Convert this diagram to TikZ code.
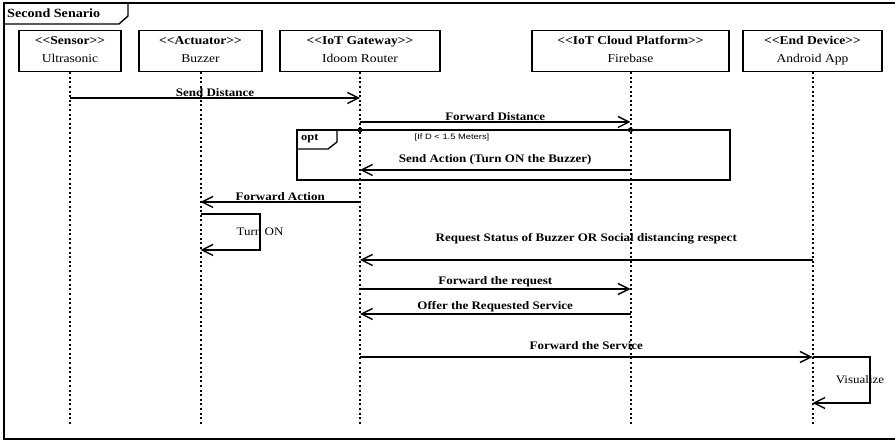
\documentclass[tikz,border=0pt]{standalone}
\usepackage{fontspec}
\setmainfont{Liberation Serif}[FakeStretch=1.13]
\newfontfamily\guardfont{Liberation Sans}[FakeStretch=1.2]
\usetikzlibrary{arrows.meta,positioning}

\newcommand{\stereo}[1]{\textbf{<\kern0pt<#1>\kern0pt>}\strut}

\begin{document}
\begin{tikzpicture}[
    x=1pt, y=-1pt,
    font=\fontsize{12}{14}\selectfont,
    head/.style={
        draw,
        line width=1.4pt,
        align=center,
        minimum height=41pt,
        inner sep=2pt
    },
    lifeline/.style={
        line width=2pt,
        dash pattern=on 2pt off 2.6pt
    },
    msg/.style={
        -{Straight Barb[length=11pt,width=11pt]},
        line width=1.4pt
    },
    lbl/.style={
        font=\fontsize{11.5}{13}\selectfont\bfseries,
        above=0pt,
        inner sep=1pt
    },
    selflbl/.style={
        font=\fontsize{11.5}{13}\selectfont
    },
    frame/.style={
        draw,
        line width=1.4pt
    }
]
\useasboundingbox (0,0) rectangle (895,443);

% outer frame and its tag
\draw[frame] (898,439) -- (4,439) -- (4,3) -- (898,3);
\draw[frame] (4,24) -- (119,24) -- (128,16) -- (128,3);
\node[anchor=west, font=\fontsize{12.5}{14}\selectfont\bfseries, inner sep=0pt] (title) at (7,13) {Second Senario};

% lifeline heads
\node[head, minimum width=102pt] (sensor) at (70,51) {\stereo{Sensor}\\[4pt]Ultrasonic\strut};
\node[head, minimum width=123pt] (buzzer) at (200.5,51) {\stereo{Actuator}\\[4pt]Buzzer\strut};
\node[head, minimum width=160pt] (gateway) at (360,51) {\stereo{IoT Gateway}\\[4pt]Idoom Router\strut};
\node[head, minimum width=197pt] (firebase) at (630.5,51) {\stereo{IoT Cloud Platform}\\[4pt]Firebase\strut};
\node[head, minimum width=139pt] (android) at (812.5,51) {\stereo{End Device}\\[4pt]Android App\strut};

% message levels
\coordinate (bottom) at (0,424);
\coordinate (m1) at (0,98);
\coordinate (m2) at (0,122);
\coordinate (optTop) at (0,130);
\coordinate (m3) at (0,170);
\coordinate (m4) at (0,202);
\coordinate (m5a) at (0,214);
\coordinate (turnon) at (260,232);
\coordinate (m5b) at (0,250);
\coordinate (m6) at (0,260);
\coordinate (m7) at (0,289);
\coordinate (m8) at (0,314);
\coordinate (m9) at (0,357);
\coordinate (visual) at (870,380);
\coordinate (m10) at (0,403);

% lifelines
\foreach \part in {sensor,buzzer,gateway,firebase,android}
    \draw[lifeline] (\part.south) -- (\part.south |- bottom);

% opt fragment
\draw[frame] (297,130) rectangle (730,180);
\draw[frame] (297,149) -- (328,149) -- (337,142) -- (337,130);
\node[anchor=west, font=\fontsize{11}{13}\selectfont\bfseries, inner sep=0pt] (opt) at (301,139) {opt};
\node[font=\guardfont\fontsize{7.8}{9}\selectfont, inner sep=0pt] (guard) at (452,137) {[If D < 1.5 Meters]};
\foreach \part in {gateway,firebase}
    \draw[line width=0.9pt] (\part |- optTop) circle (2pt);

% messages
\draw[msg] (sensor |- m1) -- node[lbl] {Send Distance} (gateway |- m1);
\draw[msg] (gateway |- m2) -- node[lbl] {Forward Distance} (firebase |- m2);
\draw[msg] (firebase |- m3) -- node[lbl, above=3pt] {Send Action (Turn ON the Buzzer)} (gateway |- m3);
\draw[msg] (gateway |- m4) -- node[lbl] {Forward Action} (buzzer |- m4);
\draw[msg] (buzzer |- m5a) -| (turnon) |- (buzzer |- m5b);
\node[selflbl] (turnonlbl) at (turnon) {Turn ON};
\draw[msg] (android |- m6) -- node[lbl, above=14pt] {Request Status of Buzzer OR Social distancing respect} (gateway |- m6);
\draw[msg] (gateway |- m7) -- node[lbl] {Forward the request} (firebase |- m7);
\draw[msg] (firebase |- m8) -- node[lbl] {Offer the Requested Service} (gateway |- m8);
\draw[msg] (gateway |- m9) -- node[lbl, above=6pt] {Forward the Service} (android |- m9);
\draw[msg] (android |- m9) -| (visual) |- (android |- m10);
\node[selflbl, xshift=-10pt] (visuallbl) at (visual) {Visualize};

\end{tikzpicture}
\end{document}
